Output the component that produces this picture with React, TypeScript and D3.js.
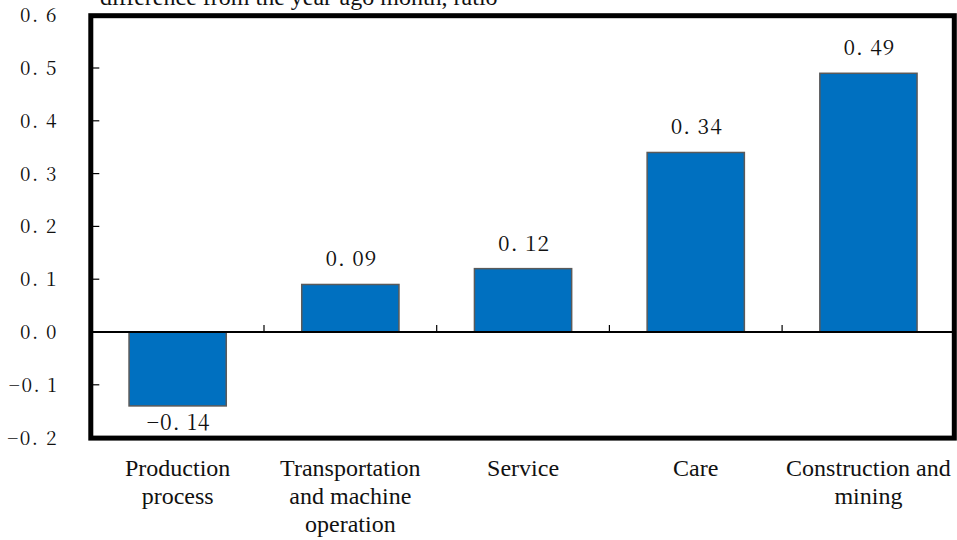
import React from "react";
import * as d3 from "d3";

// Occupation groups and their change from the year-ago month
const categories: string[][] = [
  ["Production", "process"],
  ["Transportation", "and machine", "operation"],
  ["Service"],
  ["Care"],
  ["Construction and", "mining"],
];
const values: number[] = [-0.14, 0.09, 0.12, 0.34, 0.49];
const yTicks: number[] = [-0.2, -0.1, 0.0, 0.1, 0.2, 0.3, 0.4, 0.5, 0.6];
const yDomain: [number, number] = [-0.2, 0.6];
const unitLabel = "difference from the year-ago month, ratio";

const W = 957;
const H = 540;
const plot = { left: 91.3, right: 954.8, top: 15.2, bottom: 437.6 };

// Numbers are written with a space after the decimal point and a long minus
const fmt = (v: number, digits: number) => {
  const s = Math.abs(v).toFixed(digits).replace(".", ". ");
  return (v < 0 ? "\u2212" : "") + s;
};

const TEXT_FONT = '"Liberation Serif"';
const NUM_FONT = '"Noto Serif CJK JP"';

export default function App() {
  const keys = categories.map((_, i) => String(i));
  const x = d3.scaleBand<string>().domain(keys).range([plot.left, plot.right]).padding(0);
  const y = d3.scaleLinear().domain(yDomain).range([plot.bottom, plot.top]);
  const barW = x.bandwidth() * 0.563;
  const y0 = y(0);

  return (
    <svg
      width={W}
      height={H}
      viewBox={`0 0 ${W} ${H}`}
      style={{ position: "absolute", left: 0, top: 0, background: "#fff" }}
    >
      <rect x={0} y={0} width={W} height={H} fill="#fff" />

      {/* unit caption above the frame */}
      <text x={100} y={5} style={{ fontFamily: TEXT_FONT, fontSize: 24 }} fill="#111">
        {unitLabel}
      </text>

      {/* bars */}
      {values.map((v, i) => {
        const cx = (x(String(i)) as number) + x.bandwidth() / 2;
        const top = Math.min(y(v), y0);
        const h = Math.abs(y(v) - y0);
        return (
          <rect
            key={`bar-${i}`}
            x={cx - barW / 2}
            y={top}
            width={barW}
            height={h}
            fill="#0070C0"
            stroke="#5a5a5a"
            strokeWidth={1.5}
          />
        );
      })}

      {/* zero line */}
      <line x1={plot.left} x2={plot.right} y1={y0} y2={y0} stroke="#000" strokeWidth={2} />

      {/* category separators on the zero line */}
      {keys.slice(1).map((k) => {
        const xx = x(k) as number;
        return <line key={`sep-${k}`} x1={xx} x2={xx} y1={y0} y2={y0 - 7} stroke="#000" strokeWidth={1.2} />;
      })}

      {/* y ticks inside the left frame */}
      {yTicks.map((t) => (
        <line
          key={`yt-${t}`}
          x1={plot.left}
          x2={plot.left + 8}
          y1={y(t)}
          y2={y(t)}
          stroke="#000"
          strokeWidth={1.2}
        />
      ))}

      {/* y tick labels */}
      {yTicks.map((t) => (
        <text
          key={`yl-${t}`}
          x={58}
          y={y(t) + 7}
          textAnchor="end"
          style={{ fontFamily: NUM_FONT, fontSize: 19, letterSpacing: 1.5 }}
          fill="#111"
        >
          {fmt(t, 1)}
        </text>
      ))}

      {/* value labels */}
      {values.map((v, i) => {
        const cx = (x(String(i)) as number) + x.bandwidth() / 2;
        const yy = v >= 0 ? y(v) - 18 : y(v) + 24;
        return (
          <text
            key={`vl-${i}`}
            x={cx + 1}
            y={yy}
            textAnchor="middle"
            style={{ fontFamily: NUM_FONT, fontSize: 21, letterSpacing: 1 }}
            fill="#111"
          >
            {fmt(v, 2)}
          </text>
        );
      })}

      {/* category labels */}
      {categories.map((lines, i) => {
        const cx = (x(String(i)) as number) + x.bandwidth() / 2;
        return (
          <text key={`cl-${i}`} textAnchor="middle" style={{ fontFamily: TEXT_FONT, fontSize: 24 }} fill="#111">
            {lines.map((ln, j) => (
              <tspan key={j} x={cx} y={476 + j * 28}>
                {ln}
              </tspan>
            ))}
          </text>
        );
      })}

      {/* plot frame */}
      <rect
        x={plot.left - 0.5}
        y={plot.top + 0.5}
        width={plot.right - plot.left}
        height={plot.bottom - plot.top}
        fill="none"
        stroke="#000"
        strokeWidth={5}
      />
    </svg>
  );
}
